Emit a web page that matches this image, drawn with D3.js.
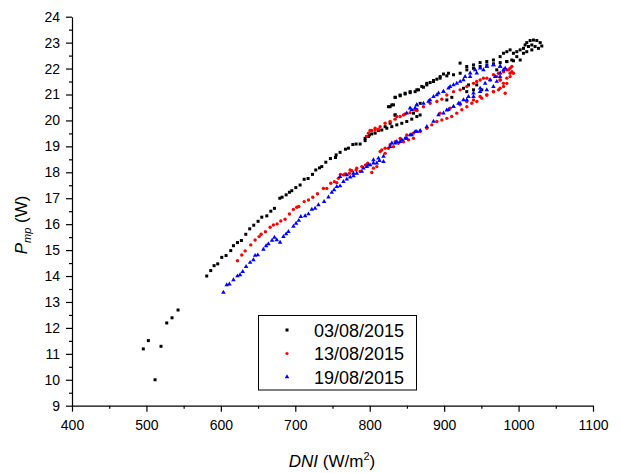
<!DOCTYPE html>
<html>
<head>
<meta charset="utf-8">
<script src="https://cdn.jsdelivr.net/npm/d3@7"></script>
<style>
  body { margin: 0; background: #fff; }
  text { font-family: "Liberation Sans", Arial, sans-serif; }
</style>
</head>
<body>
<svg id="chart" width="620" height="473"></svg>
<script>
// ---- data: [DNI (W/m2), Pmp (W)] ----
const seriesNames = ["03/08/2015", "13/08/2015", "19/08/2015"];

const day03 = [
  [495.8, 11.19], [502.6, 11.51], [519.6, 11.29], [511.6, 10.0], [527.3, 12.19], [534.4, 12.39], [542.5, 12.69],
  [581.0, 14.00], [586.4, 14.21], [590.9, 14.40], [595.8, 14.47], [601.2, 14.72], [607.0, 14.79], [613.3, 14.98],
  [616.9, 15.17], [622.3, 15.29], [627.6, 15.37], [633.5, 15.61], [638.8, 15.82], [644.2, 15.96], [650.0, 16.11],
  [655.0, 16.27], [661.7, 16.32], [667.1, 16.50], [672.0, 16.61], [679.2, 17.00], [682.3, 17.04], [687.7, 17.13],
  [692.1, 17.23], [695.3, 17.29], [700.7, 17.41], [706.5, 17.51], [711.9, 17.73], [717.2, 17.76], [723.1, 17.92],
  [727.5, 18.09], [732.5, 18.17], [735.6, 18.22], [741.0, 18.39], [747.2, 18.53], [754.0, 18.57], [754.9, 18.67],
  [760.2, 18.77], [767.4, 18.89], [771.4, 18.93], [777.3, 19.07], [781.7, 19.09], [787.1, 19.09], [793.8, 19.22],
  [796.1, 19.38], [799.7, 19.44],
  [793.8, 19.31], [798.3, 19.38], [802.8, 19.48], [807.3, 19.51], [811.7, 19.61], [816.2, 19.63], [823.0, 19.70],
  [829.7, 19.76], [836.4, 19.83], [843.1, 19.89], [849.8, 19.96], [856.5, 20.05], [863.3, 20.15],
  [825.2, 20.53], [829.7, 20.60], [834.1, 20.21], [820.7, 19.76], [827.4, 19.89], [831.9, 20.60], [834.2, 20.21],
  [858.8, 20.28], [863.3, 20.41], [867.8, 20.66], [903.6, 20.79], [910.3, 20.89], [926.0, 21.24], [932.7, 21.37],
  [939.4, 21.18], [943.8, 21.37], [950.6, 21.18], [970.7, 21.95], [930.4, 21.11], [867.7, 20.21],
  [834.2, 20.89], [840.9, 20.98], [847.6, 21.05], [854.3, 21.11], [863.3, 21.18], [870.0, 21.31], [876.7, 21.37],
  [885.7, 21.50], [894.6, 21.63], [903.6, 21.72], [912.6, 21.76], [921.5, 21.82], [930.5, 21.95], [939.4, 22.01],
  [948.4, 22.08], [957.4, 22.14], [966.3, 22.18], [975.3, 22.23], [984.2, 22.27], [993.2, 22.30], [1002.2, 22.33],
  [827.4, 20.53], [834.2, 20.89], [840.9, 20.95], [847.6, 21.02], [854.3, 21.07], [861.0, 21.11], [865.5, 21.18],
  [872.2, 21.28], [876.7, 21.43], [881.2, 21.46], [885.7, 21.54], [890.2, 21.59], [894.6, 21.69], [899.1, 21.79],
  [905.8, 21.82],
  [921.4, 22.21], [930.4, 22.08], [939.4, 22.14], [948.3, 22.23], [957.3, 22.27], [966.2, 22.33], [975.2, 22.46],
  [979.7, 22.59], [984.2, 22.65], [988.6, 22.72], [993.1, 22.59], [997.6, 22.65], [1002.1, 22.72], [1006.6, 22.78],
  [1008.8, 22.91], [1011.0, 23.00], [1015.5, 23.08], [1020.0, 23.10], [1024.5, 23.08], [1029.0, 23.00], [1031.2, 22.87],
  [1026.7, 22.78], [1022.2, 22.85], [1017.8, 22.91], [1013.3, 22.85], [1017.8, 22.72], [1011.0, 22.65], [1006.6, 22.59],
  [997.6, 22.46], [990.9, 22.33], [984.2, 22.27]
];

const day13 = [
  [622.3, 14.59], [628.1, 14.81], [632.6, 14.97], [640.2, 15.20], [646.0, 15.39], [651.4, 15.52], [654.1, 15.61],
  [659.9, 15.71], [666.2, 15.88], [670.6, 15.97], [675.6, 16.01], [680.5, 16.12], [686.3, 16.19], [692.1, 16.39],
  [697.5, 16.57], [702.0, 16.65], [704.7, 16.68], [711.9, 16.87], [717.7, 16.93], [723.5, 17.04], [729.8, 17.17],
  [737.8, 17.38], [742.3, 17.38], [747.7, 17.58], [752.6, 17.64], [755.8, 17.60], [760.7, 17.92], [767.0, 17.94],
  [772.8, 17.96], [775.9, 18.06], [781.7, 18.09], [789.4, 18.22], [794.3, 18.28], [797.4, 18.35], [802.8, 17.99],
  [805.0, 18.16], [809.5, 18.22],
  [758.0, 17.77], [764.7, 17.90], [773.7, 18.09], [782.6, 18.16], [787.1, 18.03], [816.2, 18.86], [820.7, 18.73],
  [825.2, 18.93], [831.9, 18.99], [838.6, 19.12], [845.3, 19.18], [852.1, 19.25], [858.8, 19.31],
  [814.0, 18.80], [820.7, 18.93], [827.4, 19.06], [834.2, 19.18], [840.9, 19.31], [849.8, 19.44], [858.8, 19.51],
  [867.8, 19.57], [876.7, 19.70], [883.4, 19.83], [890.2, 19.96], [896.9, 20.02], [903.6, 20.08], [910.3, 20.15],
  [917.0, 20.28], [923.8, 20.41], [930.5, 20.53], [937.2, 20.66], [943.9, 20.73], [950.6, 20.86], [957.4, 20.98],
  [966.3, 21.11], [973.0, 21.18], [979.8, 21.31], [984.2, 21.43], [988.7, 21.69], [991.0, 21.88], [982.0, 21.05],
  [975.3, 21.56],
  [796.1, 19.38], [798.3, 19.51], [802.8, 19.61], [807.3, 19.63], [811.8, 19.66],
  [800.5, 19.61], [807.3, 19.70], [814.0, 19.76], [820.7, 19.89], [827.4, 19.96], [834.1, 20.05], [840.9, 20.15],
  [847.6, 20.25], [854.3, 20.30], [861.0, 20.41],
  [836.4, 20.15], [845.4, 20.21], [863.3, 20.38], [872.2, 20.53], [881.2, 20.66], [890.2, 20.73], [896.9, 20.82],
  [903.6, 20.98], [912.6, 21.11], [921.5, 21.18], [930.5, 21.31], [939.4, 21.43], [948.4, 21.56], [957.4, 21.63],
  [966.3, 21.76], [973.0, 21.82], [979.8, 21.88], [986.5, 21.95], [991.0, 22.08],
  [894.6, 20.28], [908.0, 20.47], [921.4, 20.60], [930.4, 20.73], [939.4, 20.79], [948.3, 20.92], [957.3, 20.98],
  [966.2, 21.11], [975.2, 21.24], [979.7, 21.43], [984.2, 21.63], [988.6, 21.82], [984.2, 21.95], [988.6, 22.01],
  [993.1, 21.82], [975.2, 21.56], [970.7, 21.69], [961.8, 21.56], [952.8, 21.63], [943.8, 21.50]
];

const day19 = [
  [603.4, 13.37], [607.9, 13.66], [611.5, 13.69], [616.9, 13.85], [622.3, 14.00], [625.8, 14.04], [629.4, 14.17],
  [633.9, 14.36], [639.3, 14.52], [643.8, 14.62], [646.0, 14.79], [649.6, 14.81], [657.2, 15.03], [660.8, 15.16],
  [663.9, 15.24], [668.8, 15.37], [672.0, 15.49], [675.1, 15.39], [679.6, 15.30], [684.1, 15.52], [687.7, 15.62],
  [690.8, 15.71], [697.5, 15.91], [701.1, 16.03], [704.7, 16.14], [707.4, 16.29], [713.2, 16.32], [717.7, 16.39],
  [722.2, 16.57], [726.6, 16.61], [731.1, 16.74], [738.7, 16.87], [744.6, 17.04], [749.0, 17.22], [752.2, 17.32],
  [755.8, 17.45], [760.2, 17.47], [764.7, 17.64], [769.2, 17.73], [773.7, 17.81], [778.2, 17.86], [782.6, 17.96],
  [789.4, 18.03], [796.1, 18.22], [800.6, 18.28], [805.0, 18.35], [809.5, 18.35], [813.1, 18.45],
  [760.2, 17.83], [769.2, 17.90], [778.1, 17.96], [791.6, 18.16], [798.3, 18.28], [805.0, 18.48], [811.7, 18.54],
  [818.5, 18.61], [829.7, 19.12], [836.4, 19.18], [843.1, 19.25], [849.8, 19.31], [856.5, 19.44], [863.3, 19.57],
  [818.5, 18.41], [827.4, 18.99], [834.2, 19.12], [840.9, 19.18], [847.6, 19.31], [854.3, 19.44], [861.0, 19.57],
  [867.8, 19.61], [876.7, 19.76], [885.7, 19.96], [892.4, 20.21], [899.1, 20.28], [905.8, 20.41], [912.6, 20.53],
  [919.3, 20.66], [926.0, 20.79], [932.7, 20.92], [939.4, 21.05], [948.4, 21.24], [955.1, 21.43], [961.8, 21.56],
  [968.6, 21.69], [975.3, 21.82],
  [849.8, 20.28], [856.5, 20.41], [861.0, 20.47], [863.3, 20.60],
  [879.0, 20.73], [885.7, 20.92], [892.4, 21.05], [899.1, 21.11], [905.8, 21.24], [912.6, 21.37], [921.5, 21.50],
  [928.2, 21.69], [935.0, 21.82], [941.7, 21.95], [948.4, 22.01], [957.4, 22.08], [966.3, 22.14], [975.3, 22.08],
  [982.0, 22.01],
  [854.2, 20.47], [863.2, 20.60], [872.2, 20.66], [881.1, 20.79], [890.1, 20.98], [899.0, 21.11], [908.0, 21.30],
  [917.0, 21.43], [925.9, 21.56], [934.9, 21.69], [943.8, 21.82], [952.8, 21.95], [957.3, 22.08], [966.2, 22.14],
  [975.2, 22.08], [979.7, 21.95], [975.2, 21.69], [970.7, 21.50], [966.2, 21.30], [957.3, 21.18], [948.3, 21.11],
  [939.4, 20.92], [930.4, 20.79], [921.4, 20.66], [912.5, 20.53], [903.5, 20.40]
];

const xTicks = [400, 500, 600, 700, 800, 900, 1000, 1100];
const yTicks = [9, 10, 11, 12, 13, 14, 15, 16, 17, 18, 19, 20, 21, 22, 23, 24];

// ---- layout ----
const svg = d3.select("#chart");
const plotLeft = 72, plotRight = 593, plotTop = 16.7, plotBottom = 405.7;

const x = d3.scaleLinear().domain([400, 1100]).range([plotLeft, plotRight]);
const y = d3.scaleLinear().domain([9, 24]).range([plotBottom, plotTop]);

// minor ticks (halfway between majors)
const xMinor = d3.range(450, 1100, 100);
const yMinor = d3.range(9.5, 24, 1);

svg.append("g")
    .attr("transform", "translate(0," + plotBottom + ")")
    .call(d3.axisBottom(x).tickValues(xMinor).tickSize(3).tickFormat(""))
    .call(g => g.select(".domain").remove());
svg.append("g")
    .attr("transform", "translate(" + plotLeft + ",0)")
    .call(d3.axisLeft(y).tickValues(yMinor).tickSize(3).tickFormat(""))
    .call(g => g.select(".domain").remove());

svg.append("g")
    .attr("transform", "translate(0," + plotBottom + ")")
    .call(d3.axisBottom(x).tickValues(xTicks).tickSize(6).tickSizeOuter(0).tickPadding(8).tickFormat(d3.format("d")));
svg.append("g")
    .attr("transform", "translate(" + plotLeft + ",0)")
    .call(d3.axisLeft(y).tickValues(yTicks).tickSize(6).tickSizeOuter(0).tickPadding(6));

svg.selectAll(".tick line, .domain").attr("stroke", "#000").attr("stroke-width", 1.2);
svg.selectAll(".tick text").attr("font-size", 14).attr("fill", "#000")
    .attr("font-family", "Liberation Sans, Arial, sans-serif");

// ---- markers ----
const tri = d3.symbol().type(d3.symbolTriangle).size(9);

svg.append("g").selectAll("rect")
    .data(day03).enter().append("rect")
    .attr("x", d => x(d[0]) - 1.5)
    .attr("y", d => y(d[1]) - 1.5)
    .attr("width", 3).attr("height", 3)
    .attr("fill", "#000");

svg.append("g").selectAll("circle")
    .data(day13).enter().append("circle")
    .attr("cx", d => x(d[0]))
    .attr("cy", d => y(d[1]))
    .attr("r", 1.7)
    .attr("fill", "#ff0000");

svg.append("g").selectAll("path")
    .data(day19).enter().append("path")
    .attr("d", tri)
    .attr("transform", d => "translate(" + x(d[0]) + "," + y(d[1]) + ")")
    .attr("fill", "#0000ff");

// ---- legend ----
const legend = svg.append("g");
legend.append("rect")
    .attr("x", 258.5).attr("y", 315.5)
    .attr("width", 158).attr("height", 74.5)
    .attr("fill", "#fff").attr("stroke", "#000").attr("stroke-width", 1);

const rowY = [330, 353.5, 377];
legend.append("rect").attr("x", 285.5).attr("y", rowY[0] - 1.5).attr("width", 3).attr("height", 3).attr("fill", "#000");
legend.append("circle").attr("cx", 287).attr("cy", rowY[1]).attr("r", 1.6).attr("fill", "#ff0000");
legend.append("path").attr("d", tri).attr("transform", "translate(287," + rowY[2] + ")").attr("fill", "#0000ff");

legend.selectAll("text.lbl")
    .data(seriesNames).enter().append("text")
    .attr("class", "lbl")
    .attr("x", 314)
    .attr("y", (d, i) => rowY[i] + 6.5)
    .attr("font-size", 18)
    .text(d => d);

// ---- axis titles ----
const xTitle = svg.append("text")
    .attr("x", 332).attr("y", 467)
    .attr("text-anchor", "middle")
    .attr("font-size", 17);
xTitle.append("tspan").attr("font-style", "italic").text("DNI");
xTitle.append("tspan").text(" (W/m");
xTitle.append("tspan").attr("font-size", 11).attr("dy", -7).text("2");
xTitle.append("tspan").attr("dy", 7).text(")");

const yTitle = svg.append("text")
    .attr("transform", "translate(27,225)rotate(-90)")
    .attr("text-anchor", "middle")
    .attr("font-size", 17);
yTitle.append("tspan").attr("font-style", "italic").text("P");
yTitle.append("tspan").attr("font-style", "italic").attr("font-size", 11).attr("dy", 4).text("mp");
yTitle.append("tspan").attr("dy", -4).text(" (W)");
</script>
</body>
</html>
